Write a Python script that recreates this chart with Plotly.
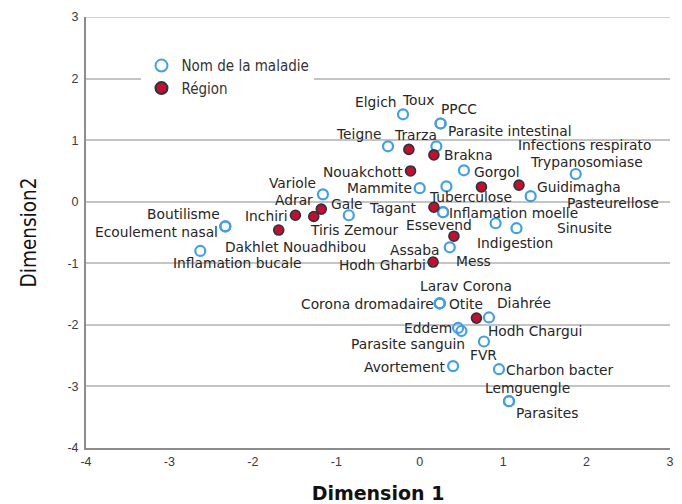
import plotly.graph_objects as go

# Correspondence analysis: disease and region scores on the first two dimensions
disease_names = [
    "Elgich", "Toux", "PPCC", "Parasite intestinal", "Teigne",
    "Infections respirato", "Trypanosomiase", "Tuberculose", "Mammite",
    "Pasteurellose", "Inflamation moelle", "Essevend", "Indigestion",
    "Sinusite", "Mess", "Gale", "Variole", "Boutilisme", "Ecoulement nasal",
    "Inflamation bucale", "Larav Corona", "Corona dromadaire", "Otite",
    "Diahrée", "Eddem", "Parasite sanguin", "FVR", "Avortement",
    "Charbon bacter", "Lemguengle", "Parasites",
]
disease_dim1 = [
    -0.20, 0.20, 0.25, 0.25, -0.38,
    0.53, 1.87, 0.32, 0.00,
    1.33, 0.28, 0.28, 0.91,
    1.16, 0.36, -0.85, -1.16, -2.33, -2.33,
    -2.63, 0.24, 0.24, 0.24,
    0.83, 0.46, 0.50, 0.77, 0.40,
    0.95, 1.07, 1.07,
]
disease_dim2 = [
    1.42, 0.90, 1.27, 1.27, 0.90,
    0.51, 0.45, 0.25, 0.22,
    0.09, -0.17, -0.17, -0.35,
    -0.43, -0.74, -0.22, 0.12, -0.40, -0.40,
    -0.80, -1.65, -1.65, -1.65,
    -1.88, -2.05, -2.10, -2.27, -2.67,
    -2.72, -3.24, -3.24,
]

region_names = [
    "Trarza", "Brakna", "Nouakchott", "Gorgol", "Guidimagha", "Tagant",
    "Assaba", "Hodh Gharbi", "Adrar", "Tiris Zemour", "Inchiri",
    "Dakhlet Nouadhibou", "Hodh Chargui",
]
region_dim1 = [
    -0.13, 0.17, -0.11, 0.74, 1.19, 0.17,
    0.41, 0.16, -1.18, -1.27, -1.49,
    -1.69, 0.68,
]
region_dim2 = [
    0.85, 0.76, 0.50, 0.24, 0.27, -0.09,
    -0.56, -0.98, -0.12, -0.24, -0.22,
    -0.46, -1.89,
]

x_ticks = [-4, -3, -2, -1, 0, 1, 2, 3]
y_ticks = [-4, -3, -2, -1, 0, 1, 2, 3]

# Label placement: (anchor, x offset px, y offset px downward)
label_place = {
    "Elgich": ("right", -6, -12), "Toux": ("center", -18, -46),
    "PPCC": ("left", -1, -15), "Parasite intestinal": ("left", 6, 7),
    "Teigne": ("right", -6, -12), "Infections respirato": ("left", 53, -25),
    "Trypanosomiase": ("center", 11, -12), "Tuberculose": ("center", 24, 11),
    "Mammite": ("right", -7, 0), "Pasteurellose": ("left", 35, 7),
    "Inflamation moelle": ("left", 5, 1), "Essevend": ("center", -4, 13),
    "Indigestion": ("center", 19, 20), "Sinusite": ("left", 40, 0),
    "Mess": ("left", 5, 14), "Gale": ("center", -2, -11),
    "Variole": ("right", -6, -11), "Boutilisme": ("right", -4, -12),
    "Ecoulement nasal": ("right", -6, 6), "Inflamation bucale": ("center", 37, 12),
    "Larav Corona": ("center", 26, -17), "Corona dromadaire": ("right", -5, 1),
    "Otite": ("left", 8, 1), "Diahrée": ("left", 7, -14),
    "Eddem": ("right", -5, 0), "Parasite sanguin": ("right", 5, 13),
    "FVR": ("center", 0, 14), "Avortement": ("right", -7, 1),
    "Charbon bacter": ("left", 6, 1), "Lemguengle": ("center", 19, -13),
    "Parasites": ("left", 6, 12),
    "Trarza": ("center", 7, -14), "Brakna": ("left", 9, 0),
    "Nouakchott": ("right", -7, 1), "Gorgol": ("left", -8, -15),
    "Guidimagha": ("left", 17, 2), "Tagant": ("right", -16, 1),
    "Assaba": ("right", -14, 14), "Hodh Gharbi": ("right", -6, 3),
    "Adrar": ("right", -7, -9), "Tiris Zemour": ("center", 40, 14),
    "Inchiri": ("right", -7, 1), "Dakhlet Nouadhibou": ("center", 17, 17),
    "Hodh Chargui": ("left", 11, 13),
}

BLUE = "#3d9ff0"
RED = "#cc0a30"
GRID = "#c4c4c4"
LABEL_FONT = dict(family="DejaVu Sans", size=13.8, color="#262626")
NARROW = "Liberation Sans Narrow, DejaVu Sans Condensed, Arial"

fig = go.Figure()
fig.add_trace(go.Scatter(
    x=disease_dim1, y=disease_dim2, mode="markers", name="Nom de la maladie",
    text=disease_names, hoverinfo="text",
    marker=dict(symbol="circle-open", size=10, color=BLUE, line=dict(width=2.2)),
))
fig.add_trace(go.Scatter(
    x=region_dim1, y=region_dim2, mode="markers", name="Région",
    text=region_names, hoverinfo="text",
    marker=dict(symbol="circle", size=10, color=RED,
                line=dict(width=1.6, color="#1f3a3a")),
))

annotations = []
for names, xs, ys in ((disease_names, disease_dim1, disease_dim2),
                      (region_names, region_dim1, region_dim2)):
    for n, xv, yv in zip(names, xs, ys):
        anchor, dx, dy = label_place[n]
        annotations.append(dict(
            x=xv, y=yv, xref="x", yref="y", text=n, showarrow=False,
            xanchor=anchor, yanchor="middle", xshift=dx, yshift=-dy,
            font=LABEL_FONT, borderpad=0,
        ))

fig.update_layout(
    width=682, height=504,
    margin=dict(l=86, r=12, t=17, b=56, autoexpand=False),
    paper_bgcolor="white", plot_bgcolor="white",
    annotations=annotations,
    # top border of the frame, drawn like a grid line
    shapes=[dict(type="line", xref="paper", yref="y", x0=0, x1=1, y0=3, y1=3,
                 line=dict(color=GRID, width=1.5), layer="below")],
    showlegend=True,
    legend=dict(
        x=0.095, y=0.925, xanchor="left", yanchor="top",
        bgcolor="white", borderwidth=0, tracegroupgap=0,
        font=dict(family=NARROW, size=15, color="#333333"),
        itemsizing="constant", itemwidth=30,
    ),
    xaxis=dict(
        range=[-4, 3], tickvals=x_ticks, ticktext=[str(v) for v in x_ticks],
        showgrid=False, zeroline=False, showline=True, linecolor="#8c8c8c",
        linewidth=2, ticks="", ticklabelstandoff=1, automargin=False,
        tickfont=dict(family="Liberation Sans, Arial", size=12.5, color="#3a3a3a"),
        title=dict(text="<b>Dimension 1</b>", standoff=19,
                   font=dict(family="DejaVu Sans", size=19, color="#111111")),
    ),
    yaxis=dict(
        range=[-4, 3], tickvals=y_ticks, ticktext=[str(v) for v in y_ticks],
        showgrid=True, gridcolor=GRID, gridwidth=1.5,
        zeroline=False, showline=True, linecolor="#8c8c8c", linewidth=2,
        ticks="", ticklabelstandoff=3, automargin=False,
        tickfont=dict(family="Liberation Sans, Arial", size=12.5, color="#3a3a3a"),
        title=dict(text="Dimension2", standoff=25,
                   font=dict(family=NARROW, size=20.5, color="#111111")),
    ),
)

fig.write_html("out.html")
